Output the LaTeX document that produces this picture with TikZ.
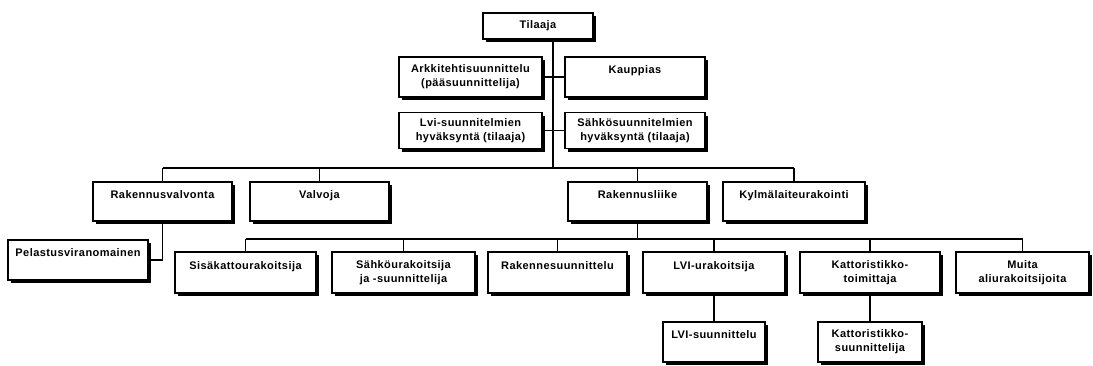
\documentclass[tikz,border=0pt]{standalone}
\usepackage{fontspec}
\setmainfont{Liberation Sans}[LetterSpace=4]
\usepackage{tikz}
\usetikzlibrary{shadows}

\begin{document}
\begin{tikzpicture}[x=1pt,y=-1pt,
        box/.style={draw,line width=1.6pt,fill=white,align=center,inner sep=2pt,
            font=\fontsize{11}{14}\selectfont\bfseries,
            general shadow={fill=black,shadow xshift=3pt,shadow yshift=-3pt}},
        wire/.style={line width=1.6pt}]
            \useasboundingbox (0,0) rectangle (1093,365);

            \node[box,minimum width=110,minimum height=26] (tilaaja) at (538,26) {Tilaaja};
            \node[box,minimum width=143,minimum height=40] (arkkit) at (470.5,77) {Arkkitehtisuunnittelu\\(pääsuunnittelija)};
            \node[box,minimum width=140,minimum height=40] (kauppias) at (635,77) {Kauppias\\~};
            \node[box,minimum width=143,minimum height=36] (lvihyv) at (470.5,130.5) {Lvi-suunnitelmien\\hyväksyntä (tilaaja)};
            \node[box,minimum width=140,minimum height=36] (sahkohyv) at (635,130.5) {Sähkösuunnitelmien\\hyväksyntä (tilaaja)};

            \node[box,minimum width=139,minimum height=39] (rakval) at (162.5,201.5) {Rakennusvalvonta\\~};
            \node[box,minimum width=139,minimum height=39] (valvoja) at (319.5,201.5) {Valvoja\\~};
            \node[box,minimum width=139,minimum height=39] (rakliike) at (637.5,201.5) {Rakennusliike\\~};
            \node[box,minimum width=142,minimum height=39] (kylma) at (794,201.5) {Kylmälaiteurakointi\\~};
            \node[box,minimum width=140,minimum height=40] (pelastus) at (78,260) {Pelastusviranomainen\\~};

            \node[box,minimum width=141,minimum height=41] (sisakatto) at (245.5,272.5) {Sisäkattourakoitsija\\~};
            \node[box,minimum width=143,minimum height=41] (sahkourak) at (403.5,272.5) {Sähköurakoitsija\\ja -suunnittelija};
            \node[box,minimum width=139,minimum height=41] (rakenne) at (557.5,272.5) {Rakennesuunnittelu\\~};
            \node[box,minimum width=142,minimum height=41] (lviurak) at (714,272.5) {LVI-urakoitsija\\~};
            \node[box,minimum width=140,minimum height=41] (kattotoim) at (870,272.5) {Kattoristikko-\\toimittaja};
            \node[box,minimum width=133,minimum height=41] (muita) at (1022.5,272.5) {Muita\\aliurakoitsijoita};

            \node[box,minimum width=102,minimum height=40] (lvisuun) at (714,342) {LVI-suunnittelu\\~};
            \node[box,minimum width=104,minimum height=40] (kattosuun) at (870,342) {Kattoristikko-\\suunnittelija};

            \coordinate (runko) at (553,168);
            \coordinate (ala) at (637.5,239);

            \draw[wire] (tilaaja.south -| runko) -- (runko);
            \draw[wire] (arkkit.east) -- (kauppias.west);
            \draw[wire] (lvihyv.east) -- (sahkohyv.west);
            \draw[wire] (rakval.north |- runko) -- (kylma.north |- runko);
            \foreach \n in {rakval,valvoja,rakliike,kylma}
                \draw[wire] (\n.north) -- (\n.north |- runko);
            \draw[wire] (rakval.south) |- (pelastus.east);

            \draw[wire] (rakliike.south) -- (ala);
            \draw[wire] (sisakatto.north |- ala) -- (muita.north |- ala);
            \foreach \n in {sisakatto,sahkourak,rakenne,lviurak,kattotoim,muita}
                \draw[wire] (\n.north) -- (\n.north |- ala);
            \draw[wire] (lviurak.south) -- (lvisuun.north);
            \draw[wire] (kattotoim.south) -- (kattosuun.north);
        \end{tikzpicture}
\end{document}
